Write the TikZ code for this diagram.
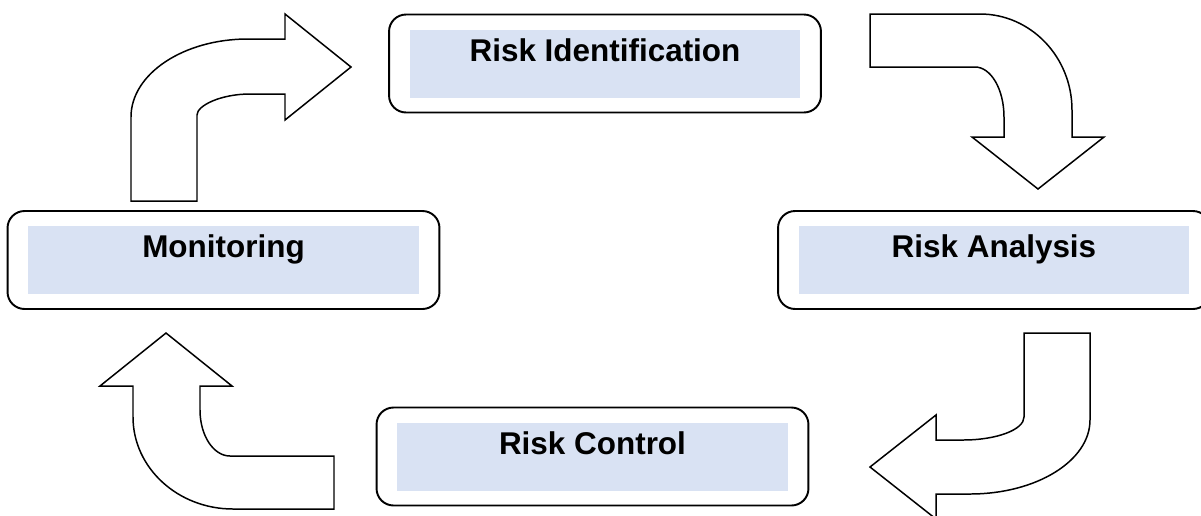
\documentclass[tikz,border=0pt]{standalone}
\usepackage{fontspec}
\setmainfont{Liberation Sans}
\usepackage{xcolor}
\usepackage{tikz}
\definecolor{bandblue}{HTML}{D9E2F3}

\tikzset{
  stage/.style={draw, line width=1.1pt, rounded corners=0.34cm, inner sep=0pt,
                minimum width=8.64cm, minimum height=1.96cm},
  band/.style={fill=bandblue, inner sep=0pt, minimum width=7.82cm, minimum height=1.36cm},
  stagename/.style={font=\fontsize{17.9}{21}\selectfont\bfseries, anchor=base, inner sep=0pt},
  bent/.style={draw, fill=white, line width=0.85pt, line join=miter}
}

\begin{document}
\begin{tikzpicture}[x=0.02cm, y=-0.02cm]
          \useasboundingbox (0,0) rectangle (1201,515);

          \node[stage] (mon)   at (223.5,260)   {};
          \node[stage] (ident) at (605,63.5)    {};
          \node[stage] (anal)  at (994,260)     {};
          \node[stage] (ctrl)  at (592.5,456.5) {};

          \node[band] (mon-band)   at (mon)   {};
          \node[band] (ident-band) at (ident) {};
          \node[band] (anal-band)  at (anal)  {};
          \node[band] (ctrl-band)  at (ctrl)  {};

          \node[stagename] (mon-name)   at (223.5,257) {Monitoring};
          \node[stagename] (ident-name) at (605,61)    {Risk Identification};
          \node[stagename] (anal-name)  at (994,257)   {Risk Analysis};
          \node[stagename] (ctrl-name)  at (592.5,454) {Risk Control};

          \draw[bent] (131,201) -- (131,117)
                      .. controls (131,73.9) and (183.4,39) .. (248,39)
                      -- (285,39) -- (285,14) -- (351,67) -- (285,120) -- (285,94) -- (250,94)
                      .. controls (220.7,94) and (197,105.6) .. (197,115)
                      -- (197,201) -- cycle;

          \draw[bent] (870,14) -- (980,14)
                      .. controls (1030.8,14) and (1072,57) .. (1072,110)
                      -- (1072,137) -- (1104,137) -- (1038,189) -- (972,137) -- (1004,137) -- (1004,117)
                      .. controls (1004,89.4) and (991,67) .. (975,67)
                      -- (870,67) -- cycle;

          \draw[bent] (1024,333) -- (1090,333) -- (1090,420)
                      .. controls (1090,460.9) and (1036.3,494) .. (970,494)
                      -- (936,494) -- (936,519) -- (870,467) -- (936,415) -- (936,440) -- (963,440)
                      .. controls (996.7,440) and (1024,429.7) .. (1024,417)
                      -- cycle;

          \draw[bent] (334,456) -- (230,456)
                      .. controls (213.4,456) and (200,435.4) .. (200,410)
                      -- (200,386) -- (232,386) -- (166,333) -- (100,386) -- (133,386) -- (133,417)
                      .. controls (133,467.8) and (177.8,509) .. (233,509)
                      -- (334,509) -- cycle;
        \end{tikzpicture}
\end{document}
